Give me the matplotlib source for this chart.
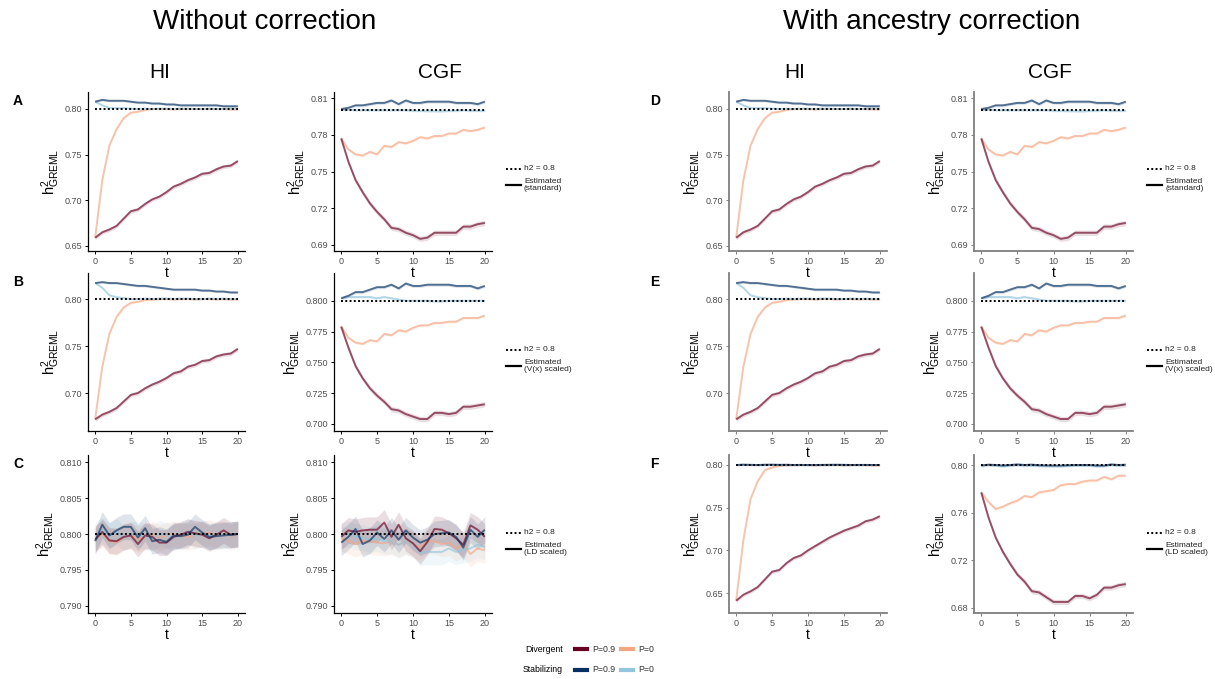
import matplotlib
matplotlib.use('Agg')  # no display in the sandbox
import matplotlib.pyplot as plt
from matplotlib.ticker import FormatStrFormatter

plt.rcParams['font.family'] = ['Liberation Sans', 'DejaVu Sans']

t = list(range(21))

# Row A / D: standard GRM
a_hi_div09 = [0.659, 0.665, 0.668, 0.672, 0.680, 0.688, 0.690, 0.696, 0.701, 0.704, 0.709,
              0.715, 0.718, 0.722, 0.725, 0.729, 0.730, 0.734, 0.737, 0.738, 0.743]
a_hi_div0 = [0.659, 0.722, 0.760, 0.778, 0.790, 0.796, 0.797, 0.799, 0.800, 0.800, 0.800,
             0.7995, 0.800, 0.800, 0.800, 0.800, 0.800, 0.800, 0.800, 0.7995, 0.7995]
a_hi_stab09 = [0.808, 0.810, 0.809, 0.809, 0.809, 0.808, 0.807, 0.807, 0.806, 0.806, 0.805,
               0.805, 0.804, 0.804, 0.804, 0.804, 0.804, 0.804, 0.803, 0.803, 0.803]
a_hi_stab0 = [0.808, 0.804, 0.801, 0.801, 0.801, 0.8005, 0.800, 0.8005, 0.800, 0.8005, 0.8005,
              0.800, 0.8005, 0.8005, 0.800, 0.800, 0.8005, 0.800, 0.800, 0.8005, 0.800]

a_cgf_div09 = [0.777, 0.758, 0.743, 0.733, 0.724, 0.717, 0.711, 0.704, 0.703, 0.700, 0.698,
               0.695, 0.696, 0.700, 0.700, 0.700, 0.700, 0.705, 0.705, 0.707, 0.708]
a_cgf_div0 = [0.777, 0.768, 0.764, 0.763, 0.766, 0.764, 0.771, 0.770, 0.774, 0.773, 0.775,
              0.778, 0.777, 0.779, 0.779, 0.781, 0.781, 0.784, 0.783, 0.784, 0.786]
a_cgf_stab09 = [0.801, 0.802, 0.804, 0.804, 0.805, 0.806, 0.806, 0.808, 0.805, 0.808, 0.806,
                0.806, 0.807, 0.807, 0.807, 0.807, 0.806, 0.806, 0.806, 0.805, 0.807]
a_cgf_stab0 = [0.8005, 0.8005, 0.800, 0.800, 0.800, 0.800, 0.800, 0.800, 0.800, 0.800, 0.7995,
               0.7995, 0.7992, 0.7992, 0.7990, 0.7995, 0.7995, 0.800, 0.7995, 0.7995, 0.7995]

# Row B / E: V(x) scaled
b_hi_div09 = [0.672, 0.677, 0.680, 0.684, 0.691, 0.698, 0.700, 0.705, 0.709, 0.712, 0.716,
              0.721, 0.723, 0.728, 0.730, 0.734, 0.735, 0.739, 0.741, 0.742, 0.747]
b_hi_div0 = [0.672, 0.728, 0.763, 0.781, 0.791, 0.796, 0.797, 0.799, 0.7995, 0.800, 0.800,
             0.7995, 0.800, 0.800, 0.7995, 0.800, 0.800, 0.7995, 0.800, 0.7995, 0.7995]
b_hi_stab09 = [0.817, 0.818, 0.817, 0.817, 0.816, 0.815, 0.814, 0.814, 0.813, 0.812, 0.811,
               0.810, 0.810, 0.810, 0.810, 0.809, 0.809, 0.808, 0.808, 0.807, 0.807]
b_hi_stab0 = [0.817, 0.812, 0.804, 0.802, 0.801, 0.800, 0.800, 0.8005, 0.800, 0.8005, 0.8005,
              0.800, 0.8005, 0.8005, 0.800, 0.800, 0.8005, 0.800, 0.8005, 0.800, 0.800]

b_cgf_div09 = [0.779, 0.762, 0.747, 0.737, 0.729, 0.723, 0.718, 0.712, 0.711, 0.708, 0.706,
               0.704, 0.704, 0.709, 0.709, 0.708, 0.709, 0.714, 0.714, 0.715, 0.716]
b_cgf_div0 = [0.779, 0.770, 0.766, 0.765, 0.768, 0.767, 0.773, 0.772, 0.776, 0.775, 0.778,
              0.780, 0.780, 0.782, 0.782, 0.783, 0.783, 0.786, 0.786, 0.786, 0.788]
b_cgf_stab09 = [0.802, 0.804, 0.807, 0.807, 0.809, 0.811, 0.811, 0.813, 0.810, 0.814, 0.812,
                0.812, 0.813, 0.813, 0.813, 0.813, 0.812, 0.812, 0.812, 0.810, 0.812]
b_cgf_stab0 = [0.802, 0.803, 0.803, 0.803, 0.803, 0.802, 0.803, 0.802, 0.801, 0.800, 0.800,
               0.800, 0.800, 0.7995, 0.7995, 0.800, 0.800, 0.800, 0.800, 0.800, 0.800]

# Row C: LD scaled, no correction
c_hi_div09 = [0.7992, 0.8003, 0.7991, 0.7990, 0.7996, 0.7998, 0.7986, 0.7998, 0.7996, 0.7988, 0.7988,
              0.7996, 0.7999, 0.8003, 0.8001, 0.7999, 0.7994, 0.7999, 0.8005, 0.7999, 0.8000]
c_hi_div0 = [0.7995, 0.8000, 0.7990, 0.7988, 0.7995, 0.7998, 0.7993, 0.7995, 0.8000, 0.7995, 0.7998,
             0.8000, 0.7998, 0.7996, 0.7998, 0.8000, 0.8002, 0.7998, 0.8000, 0.7996, 0.7999]
c_hi_stab09 = [0.7990, 0.8013, 0.7998, 0.8005, 0.8010, 0.8010, 0.7995, 0.8008, 0.7990, 0.7992, 0.7989,
               0.7998, 0.7997, 0.7999, 0.8010, 0.8002, 0.7996, 0.7997, 0.7998, 0.7999, 0.8000]
c_hi_stab0 = [0.7998, 0.8005, 0.7997, 0.8003, 0.7995, 0.7999, 0.8000, 0.7996, 0.7994, 0.8001, 0.7998,
              0.7995, 0.7999, 0.8004, 0.7997, 0.8000, 0.7997, 0.7999, 0.8000, 0.7997, 0.8000]

c_cgf_div09 = [0.7996, 0.8005, 0.8003, 0.8005, 0.8006, 0.8006, 0.8016, 0.7996, 0.8013, 0.7994, 0.7987,
               0.7976, 0.7989, 0.8007, 0.8006, 0.8001, 0.7994, 0.7985, 0.8012, 0.8006, 0.7996]
c_cgf_div0 = [0.7994, 0.7990, 0.7986, 0.7990, 0.7990, 0.7988, 0.7987, 0.7990, 0.7985, 0.7990, 0.7985,
              0.7982, 0.7990, 0.7990, 0.7986, 0.7988, 0.7980, 0.7986, 0.7972, 0.7980, 0.7977]
c_cgf_stab09 = [0.7988, 0.7996, 0.8007, 0.7986, 0.7991, 0.8002, 0.7993, 0.8005, 0.7992, 0.8005, 0.7995,
                0.7988, 0.7992, 0.8000, 0.8001, 0.8002, 0.7996, 0.7981, 0.8006, 0.7996, 0.8006]
c_cgf_stab0 = [0.7998, 0.8000, 0.7996, 0.7995, 0.7992, 0.7994, 0.7990, 0.7990, 0.7985, 0.7990, 0.7985,
               0.7974, 0.7975, 0.7975, 0.7975, 0.7980, 0.7975, 0.7978, 0.7980, 0.7985, 0.7982]

# Row F: LD scaled, ancestry corrected
f_hi_div09 = [0.641, 0.648, 0.652, 0.657, 0.666, 0.675, 0.677, 0.685, 0.691, 0.694, 0.700,
              0.705, 0.710, 0.715, 0.719, 0.723, 0.726, 0.729, 0.734, 0.736, 0.740]
f_hi_div0 = [0.641, 0.712, 0.760, 0.781, 0.794, 0.797, 0.799, 0.7995, 0.800, 0.800, 0.800,
             0.7995, 0.800, 0.800, 0.800, 0.7995, 0.800, 0.800, 0.800, 0.7995, 0.7995]
f_hi_stab09 = [0.8, 0.8004, 0.8002, 0.8, 0.8003, 0.8004, 0.8002, 0.8003, 0.8, 0.8001, 0.8,
               0.8, 0.8001, 0.8002, 0.8003, 0.8002, 0.8, 0.8001, 0.8001, 0.8, 0.8]
f_hi_stab0 = [0.8, 0.8002, 0.8, 0.7999, 0.8001, 0.8002, 0.8, 0.8, 0.7999, 0.8, 0.7999,
              0.8, 0.8, 0.8001, 0.8001, 0.8, 0.7999, 0.8, 0.8, 0.8, 0.7999]

f_cgf_div09 = [0.777, 0.756, 0.739, 0.727, 0.717, 0.708, 0.702, 0.694, 0.693, 0.689, 0.685,
               0.685, 0.685, 0.690, 0.690, 0.688, 0.691, 0.697, 0.697, 0.699, 0.700]
f_cgf_div0 = [0.777, 0.769, 0.763, 0.765, 0.768, 0.770, 0.774, 0.773, 0.777, 0.778, 0.779,
              0.783, 0.784, 0.784, 0.786, 0.787, 0.787, 0.790, 0.788, 0.791, 0.791]
f_cgf_stab09 = [0.7995, 0.8003, 0.800, 0.7995, 0.800, 0.8005, 0.800, 0.8003, 0.7998, 0.7996, 0.7995,
                0.7995, 0.7998, 0.800, 0.800, 0.800, 0.7995, 0.7995, 0.8005, 0.800, 0.8003]
f_cgf_stab0 = [0.7995, 0.800, 0.7995, 0.799, 0.7995, 0.800, 0.7995, 0.7995, 0.7992, 0.799, 0.799,
               0.799, 0.7992, 0.7995, 0.7995, 0.7995, 0.799, 0.7992, 0.800, 0.7995, 0.7995]

# ribbon half widths (div09, div0, stab09, stab0)
se_main = [0.0022, 0.0012, 0.0012, 0.0010]
se_ld = [0.0018, 0.0018, 0.0018, 0.0018]

colors = ['#67001F', '#F4A582', '#053061', '#92C5DE']
draw_order = [1, 3, 0, 2]

W, H = 1215, 679
fig = plt.figure(figsize=(W / 100, H / 100), dpi=100)


def px_axes(l, t_, r, b):
    return fig.add_axes([l / W, 1 - b / H, (r - l) / W, (b - t_) / H])


def draw_panel(box, series, se, ylim, ticks, fmt, spine):
    ax = px_axes(*box)
    ax.patch.set_visible(False)
    for i in draw_order:
        y = series[i]
        lo = [v - se[i] for v in y]
        hi = [v + se[i] for v in y]
        ax.fill_between(t, lo, hi, color=colors[i], alpha=0.13, lw=0)
        ax.plot(t, y, color=colors[i], alpha=0.65, lw=1.4, solid_capstyle='butt')
    ax.plot(t, [0.8] * len(t), color='black', ls=(0, (1, 1.2)), lw=1.4, zorder=5)
    ax.set_xlim(-1, 21)
    ax.set_ylim(*ylim)
    ax.set_xticks([0, 5, 10, 15, 20])
    ax.set_yticks(ticks)
    ax.yaxis.set_major_formatter(FormatStrFormatter(fmt))
    for s in ['top', 'right']:
        ax.spines[s].set_visible(False)
    for s in ['left', 'bottom']:
        ax.spines[s].set_color(spine)
        ax.spines[s].set_linewidth(0.9 if spine == 'black' else 1.3)
    ax.tick_params(labelsize=6.5, labelcolor='#4D4D4D', color=spine, length=2.5, width=0.7, pad=1.5)
    ax.set_xlabel('t', fontsize=10, labelpad=0)
    ax.set_ylabel(r'$\mathregular{h^2_{GREML}}$', fontsize=10.5, labelpad=2)
    return ax


def side_legend(x, y, label):
    fig.add_artist(plt.Line2D([x / W, (x + 15) / W], [1 - y / H] * 2, color='black',
                              ls=(0, (1, 1.2)), lw=1.4))
    fig.add_artist(plt.Line2D([x / W, (x + 15) / W], [1 - (y + 16) / H] * 2, color='black', lw=1.6))
    fig.text((x + 18) / W, 1 - y / H, 'h2 = 0.8', fontsize=6, va='center', color='#222222')
    fig.text((x + 18) / W, 1 - (y + 16) / H, 'Estimated\n' + label, fontsize=6, va='center',
             linespacing=1.0, color='#222222')


rows = [
    dict(tb=(92, 251),
         left=([a_hi_div09, a_hi_div0, a_hi_stab09, a_hi_stab0], [a_cgf_div09, a_cgf_div0, a_cgf_stab09, a_cgf_stab0]),
         right=([a_hi_div09, a_hi_div0, a_hi_stab09, a_hi_stab0], [a_cgf_div09, a_cgf_div0, a_cgf_stab09, a_cgf_stab0]),
         se=(se_main, se_main),
         hi_lim=(0.6445, 0.8186), hi_ticks=[0.65, 0.70, 0.75, 0.80], hi_fmt='%.2f',
         cgf_lim=(0.6851, 0.8149), cgf_ticks=[0.69, 0.72, 0.75, 0.78, 0.81], cgf_fmt='%.2f',
         rhi_lim=None, rcgf_lim=None,
         letters=('A', 'D'), label='(standard)', leg_y=169),
    dict(tb=(273, 431),
         left=([b_hi_div09, b_hi_div0, b_hi_stab09, b_hi_stab0], [b_cgf_div09, b_cgf_div0, b_cgf_stab09, b_cgf_stab0]),
         right=([b_hi_div09, b_hi_div0, b_hi_stab09, b_hi_stab0], [b_cgf_div09, b_cgf_div0, b_cgf_stab09, b_cgf_stab0]),
         se=(se_main, se_main),
         hi_lim=(0.6596, 0.8277), hi_ticks=[0.70, 0.75, 0.80], hi_fmt='%.2f',
         cgf_lim=(0.6943, 0.8225), cgf_ticks=[0.700, 0.725, 0.750, 0.775, 0.800], cgf_fmt='%.3f',
         rhi_lim=None, rcgf_lim=None,
         letters=('B', 'E'), label='(V(x) scaled)', leg_y=350),
    dict(tb=(455, 613),
         left=([c_hi_div09, c_hi_div0, c_hi_stab09, c_hi_stab0], [c_cgf_div09, c_cgf_div0, c_cgf_stab09, c_cgf_stab0]),
         right=([f_hi_div09, f_hi_div0, f_hi_stab09, f_hi_stab0], [f_cgf_div09, f_cgf_div0, f_cgf_stab09, f_cgf_stab0]),
         se=(se_ld, se_main),
         hi_lim=(0.789, 0.811), hi_ticks=[0.790, 0.795, 0.800, 0.805, 0.810], hi_fmt='%.3f',
         cgf_lim=(0.789, 0.811), cgf_ticks=[0.790, 0.795, 0.800, 0.805, 0.810], cgf_fmt='%.3f',
         rhi_lim=((0.6266, 0.8117), [0.65, 0.70, 0.75, 0.80], '%.2f'),
         rcgf_lim=((0.6757, 0.8084), [0.68, 0.72, 0.76, 0.80], '%.2f'),
         letters=('C', 'F'), label='(LD scaled)', leg_y=533),
]

for row in rows:
    top, bot = row['tb']
    # left half: without correction
    draw_panel((88, top, 245, bot), row['left'][0], row['se'][0], row['hi_lim'], row['hi_ticks'],
               row['hi_fmt'], 'black')
    draw_panel((334, top, 492, bot), row['left'][1], row['se'][0], row['cgf_lim'], row['cgf_ticks'],
               row['cgf_fmt'], 'black')
    # right half: with ancestry correction
    rh = row['rhi_lim'] or (row['hi_lim'], row['hi_ticks'], row['hi_fmt'])
    rc = row['rcgf_lim'] or (row['cgf_lim'], row['cgf_ticks'], row['cgf_fmt'])
    draw_panel((729, top, 887, bot), row['right'][0], row['se'][1], rh[0], rh[1], rh[2], '#7F7F7F')
    draw_panel((974, top, 1133, bot), row['right'][1], row['se'][1], rc[0], rc[1], rc[2], '#7F7F7F')
    fig.text(13 / W, 1 - (top + 9) / H, row['letters'][0], fontsize=10, fontweight='bold', va='center')
    fig.text(650 / W, 1 - (top + 9) / H, row['letters'][1], fontsize=10, fontweight='bold', va='center')
    side_legend(506, row['leg_y'], row['label'])
    side_legend(1147, row['leg_y'], row['label'])

# titles and column headers
fig.text(265 / W, 1 - 22 / H, 'Without correction', fontsize=20, ha='center', va='center')
fig.text(932 / W, 1 - 22 / H, 'With ancestry correction', fontsize=20, ha='center', va='center')
for x, s in [(160, 'HI'), (440, 'CGF'), (795, 'HI'), (1050, 'CGF')]:
    fig.text(x / W, 1 - 72 / H, s, fontsize=15, ha='center', va='center')

# bottom legend
for y, name, c09, c0 in [(649, 'Divergent', colors[0], colors[1]), (670, 'Stabilizing', colors[2], colors[3])]:
    fig.text(563 / W, 1 - y / H, name, fontsize=6.3, ha='right', va='center')
    fig.add_artist(plt.Line2D([575 / W, 587 / W], [1 - y / H] * 2, color=c09, lw=3))
    fig.text(592 / W, 1 - y / H, 'P=0.9', fontsize=6.3, va='center', color='#333333')
    fig.add_artist(plt.Line2D([621 / W, 633 / W], [1 - y / H] * 2, color=c0, lw=3))
    fig.text(638 / W, 1 - y / H, 'P=0', fontsize=6.3, va='center', color='#333333')

fig.savefig('out.png', dpi=100)
